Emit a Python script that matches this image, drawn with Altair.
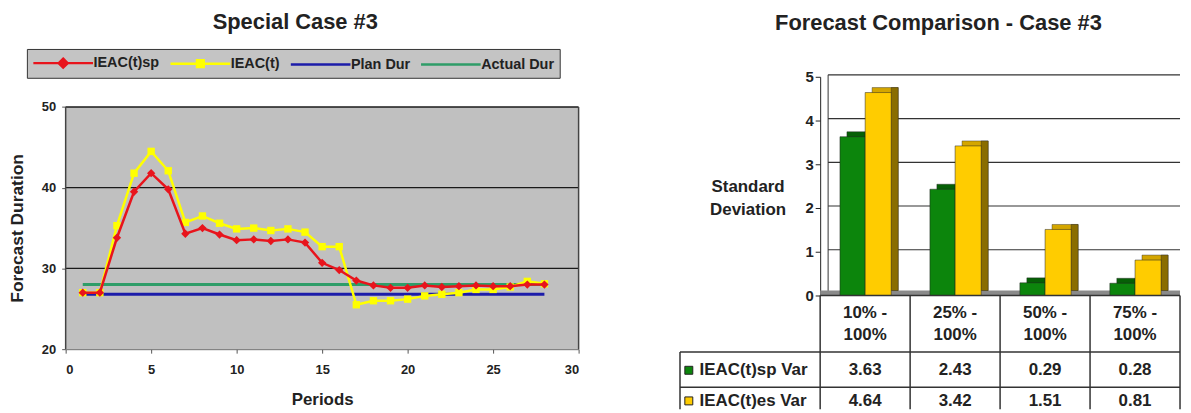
import altair as alt
import pandas as pd

FONT = "Liberation Sans"
TXT = "#222222"

# ---------------- left chart data ----------------
periods = list(range(1, 29))
ieac_sp = [27.0, 27.0, 33.8, 39.5, 41.8, 39.8, 34.3, 35.0, 34.2, 33.5, 33.6, 33.4, 33.6, 33.2,
           30.7, 29.8, 28.5, 27.9, 27.6, 27.6, 27.9, 27.7, 27.8, 27.9, 27.8, 27.8, 28.0, 28.0]
ieac_t = [27.0, 27.0, 35.3, 41.8, 44.5, 42.1, 35.7, 36.5, 35.6, 34.9, 35.0, 34.7, 34.9, 34.5,
          32.7, 32.7, 25.5, 26.0, 26.0, 26.2, 26.6, 26.8, 27.0, 27.4, 27.4, 27.7, 28.4, 28.1]
ref_periods = [1, 28]
plan_dur = [26.8, 26.8]
actual_dur = [28.0, 28.0]
series_names = ["IEAC(t)sp", "IEAC(t)", "Plan Dur", "Actual Dur"]
series_colors = ["#e8141c", "#ffff00", "#1c1caa", "#2f9d68"]
x_ticks = [0, 5, 10, 15, 20, 25, 30]
y_ticks = [20, 30, 40, 50]

# ---------------- right chart data ----------------
ranges = ["10% -\n100%", "25% -\n100%", "50% -\n100%", "75% -\n100%"]
sp_var = [3.63, 2.43, 0.29, 0.28]
es_var = [4.64, 3.42, 1.51, 0.81]
var_names = ["IEAC(t)sp Var", "IEAC(t)es Var"]
sd_ticks = [0, 1, 2, 3, 4, 5]

# ======================= LEFT CHART =======================
Y_EXT = 53.74  # plot area extends above 50 so both panels share a top edge
lxs = alt.Scale(domain=[x_ticks[0], x_ticks[-1]], nice=False, zero=False)
lys = alt.Scale(domain=[y_ticks[0], Y_EXT], nice=False, zero=False)

xaxis = alt.Axis(values=x_ticks, title="Periods", grid=False, labelFontSize=13, labelFontWeight="bold",
                 titleFontSize=17, titleFontWeight="bold", tickSize=4, labelPadding=10, titlePadding=16,
                 domainColor="#555555", tickColor="#555555", labelColor=TXT, titleColor=TXT)
yaxis = alt.Axis(values=y_ticks, title="Forecast Duration", grid=False, domain=False, tickSize=4,
                 tickColor="#555555", labelFontSize=13, labelFontWeight="bold", labelPadding=6,
                 labelColor=TXT, titleFontSize=17.5, titleFontWeight="bold", titleColor=TXT,
                 titleX=-48, titleY=152, titleAlign="center", titleBaseline="middle")


def LX(f):
    return alt.X(f, type="quantitative", scale=lxs, axis=xaxis)


def LY(f):
    return alt.Y(f, type="quantitative", scale=lys, axis=yaxis)


# legend symbols: a line with the series marker (path units scale by sqrt(symbolSize)/2)
legend_paths = [
    "M-1,0H7M3,-0.6L3.6,0L3,0.6L2.4,0Z",
    "M-1,0H7M2.55,-0.45H3.45V0.45H2.55Z",
    "M-1,0H7",
    "M-1,0H7",
]

legend = alt.Legend(
    title=None, orient="none", legendX=-39, legendY=-28, direction="horizontal", columns=4,
    fillColor="#c4c4c4", strokeColor="#333333", padding=5,
    labelFont=FONT, labelFontSize=14.5, labelFontWeight="bold", labelColor=TXT,
    symbolSize=225, symbolStrokeWidth=2.5, symbolOpacity=1, labelOffset=44, columnPadding=5,
)
color_enc = alt.Color("series:N", scale=alt.Scale(domain=series_names, range=series_colors), legend=legend)
shape_enc = alt.Shape("series:N", scale=alt.Scale(domain=series_names, range=legend_paths), legend=legend)

sp_df = pd.DataFrame({"period": periods, "value": ieac_sp, "series": series_names[0]})
t_df = pd.DataFrame({"period": periods, "value": ieac_t, "series": series_names[1]})
ref_df = pd.concat([
    pd.DataFrame({"period": ref_periods, "value": plan_dur, "series": series_names[2]}),
    pd.DataFrame({"period": ref_periods, "value": actual_dur, "series": series_names[3]}),
])
bg_df = pd.DataFrame({"x0": [x_ticks[0]], "x1": [x_ticks[-1]], "y0": [y_ticks[0]], "y1": [y_ticks[-1]]})
grid_df = pd.DataFrame({"x0": x_ticks[0], "x1": x_ticks[-1], "gy": y_ticks[1:]})
border_df = pd.DataFrame({"bx": [x_ticks[0], x_ticks[-1]], "y0": y_ticks[0], "y1": y_ticks[-1]})

bg = alt.Chart(bg_df).mark_rect(color="#c0c0c0").encode(x=LX("x0"), x2="x1", y=LY("y0"), y2="y1")
grid = alt.Chart(grid_df).mark_rule(color="#1a1a1a", strokeWidth=1.3).encode(x=LX("x0"), x2="x1", y=LY("gy"))
border = alt.Chart(border_df).mark_rule(color="#444444", strokeWidth=1.5).encode(x=LX("bx"), y=LY("y0"), y2="y1")

ref_lines = alt.Chart(ref_df).mark_line(strokeWidth=3).encode(x=LX("period"), y=LY("value"), color=color_enc,
                                                                detail="series:N")
t_line = alt.Chart(t_df).mark_line(strokeWidth=2.5).encode(x=LX("period"), y=LY("value"), color=color_enc)
t_pts = alt.Chart(t_df).mark_square(size=55, opacity=1).encode(x=LX("period"), y=LY("value"), color=color_enc)
sp_line = alt.Chart(sp_df).mark_line(strokeWidth=2.5).encode(x=LX("period"), y=LY("value"), color=color_enc)
sp_pts = alt.Chart(sp_df).mark_point(shape="diamond", filled=True, size=70, opacity=1).encode(
    x=LX("period"), y=LY("value"), color=color_enc)
# invisible layer that only carries the legend's line+marker symbols
legend_layer = alt.Chart(ref_df).mark_point(opacity=0, filled=False).encode(
    x=LX("period"), y=LY("value"), color=color_enc, shape=shape_enc)

left = alt.layer(bg, grid, border, ref_lines, t_line, t_pts, sp_line, sp_pts, legend_layer).properties(
    width=516, height=274,
    title=alt.TitleParams("Special Case #3", font=FONT, fontSize=22, fontWeight="bold", color=TXT,
                          anchor="middle", frame="group", dx=-27, offset=15),
)

# ======================= RIGHT CHART =======================
rxs = alt.Scale(domain=[0, len(ranges)], nice=False, zero=False)
rys = alt.Scale(domain=[sd_ticks[0], sd_ticks[-1]], nice=False, zero=False)
raxis = alt.Axis(values=sd_ticks, grid=False, domainColor="#222222",
                 tickColor="#222222", tickSize=5, labelFontSize=15, labelFontWeight="bold", labelPadding=2,
                 labelColor=TXT, title=["Standard", "Deviation"], titleAngle=0, titleX=-73, titleY=110,
                 titleAlign="center", titleBaseline="middle", titleFontSize=17, titleFontWeight="bold",
                 titleLineHeight=24, titleColor=TXT)


def RX(f):
    return alt.X(f, type="quantitative", scale=rxs, axis=None)


def RY(f):
    return alt.Y(f, type="quantitative", scale=rys, axis=raxis)


bar_span = [(0.22, 0.50), (0.50, 0.79)]
face_colors = ["#0c850c", "#ffcc00"]
top_colors = ["#066006", "#d4a600"]
side_colors = ["#034203", "#8a6d00"]

rows = []
for i, _ in enumerate(ranges):
    for s, vals in enumerate([sp_var, es_var]):
        rows.append({"series": var_names[s], "x0": i + bar_span[s][0], "x1": i + bar_span[s][1],
                     "v": vals[i], "base": 0})
bars_df = pd.DataFrame(rows)

n = len(ranges)
floor_df = pd.DataFrame({"x0": [0], "x1": [n], "y": [sd_ticks[0]]})
wall_df = pd.DataFrame({"x": [0], "y0": [sd_ticks[0]], "y1": [sd_ticks[-1]]})
rgrid_df = pd.DataFrame({"x0": 0, "x1": n, "gy": sd_ticks[1:]})

layers = []
layers.append(alt.Chart(rgrid_df).mark_rule(color="#333333", strokeWidth=1.2, xOffset=8, yOffset=-2)
              .encode(x=RX("x0"), x2="x1", y=RY("gy")))
layers.append(alt.Chart(wall_df).mark_rule(color="#333333", strokeWidth=1, xOffset=8, yOffset=-3, y2Offset=-2)
              .encode(x=RX("x"), y=RY("y0"), y2="y1"))
layers.append(alt.Chart(floor_df).mark_rule(color="#8a8a8a", strokeWidth=5, yOffset=-2.5)
              .encode(x=RX("x0"), x2="x1", y=RY("y")))
for s, name in enumerate(var_names):
    base = alt.Chart(bars_df).transform_filter(alt.datum.series == name)
    layers.append(base.mark_rect(color=top_colors[s], xOffset=7, x2Offset=7, yOffset=-5, y2Offset=-5,
                                 stroke="#222222", strokeWidth=0.4)
                  .encode(x=RX("x0"), x2="x1", y=RY("v"), y2="base"))
    layers.append(base.mark_rect(color=side_colors[s], x2Offset=7, yOffset=-5, y2Offset=-5,
                                 stroke="#222222", strokeWidth=0.4)
                  .encode(x=RX("x1"), x2="x1", y=RY("v"), y2="base"))
for s, name in enumerate(var_names):
    base = alt.Chart(bars_df).transform_filter(alt.datum.series == name)
    layers.append(base.mark_rect(color=face_colors[s], stroke="#222222", strokeWidth=0.5)
                  .encode(x=RX("x0"), x2="x1", y=RY("v"), y2="base"))

# ----- data table under the bars -----
label_left = -1.558
header_bottom = -1.29
row_line = -2.1
table_bottom = -2.6
header_text_y = -0.41
row_text_y = [-1.71, -2.41]
label_text_x = -1.34
label_square_x = -1.46

hl_df = pd.DataFrame({"x0": [0, label_left, label_left], "x1": [n, n, n],
                      "y": [0, header_bottom, row_line]})
vl_df = pd.DataFrame({"x": list(range(n + 1)) + [label_left],
                      "y0": [0] * (n + 1) + [header_bottom],
                      "y1": [table_bottom] * (n + 2)})
layers.append(alt.Chart(hl_df).mark_rule(color="#333333", strokeWidth=1.5)
              .encode(x=RX("x0"), x2="x1", y=RY("y")))
layers.append(alt.Chart(vl_df).mark_rule(color="#333333", strokeWidth=1.5)
              .encode(x=RX("x"), y=RY("y0"), y2="y1"))

head_df = pd.DataFrame({"x": [i + 0.5 for i in range(n)], "y": header_text_y, "t": ranges})
val_rows = []
for s, vals in enumerate([sp_var, es_var]):
    for i, v in enumerate(vals):
        val_rows.append({"x": i + 0.5, "y": row_text_y[s], "t": f"{v:.2f}"})
val_df = pd.DataFrame(val_rows)
lab_df = pd.DataFrame({"x": label_text_x, "xs": label_square_x, "y": row_text_y, "t": var_names})

txt = dict(font=FONT, fontSize=17, fontWeight="bold", color=TXT, baseline="middle")
layers.append(alt.Chart(head_df).mark_text(align="center", lineBreak="\n", lineHeight=22, **txt)
              .encode(x=RX("x"), y=RY("y"), text="t:N"))
layers.append(alt.Chart(val_df).mark_text(align="center", **txt).encode(x=RX("x"), y=RY("y"), text="t:N"))
layers.append(alt.Chart(lab_df).mark_text(align="left", **txt).encode(x=RX("x"), y=RY("y"), text="t:N"))
for s, name in enumerate(var_names):
    layers.append(alt.Chart(lab_df).transform_filter(alt.datum.t == name)
                  .mark_square(size=64, color=face_colors[s], opacity=1, stroke="#222222", strokeWidth=1)
                  .encode(x=RX("xs"), y=RY("y")))

right = alt.layer(*layers).properties(
    width=362, height=220,
    title=alt.TitleParams("Forecast Comparison - Case #3", font=FONT, fontSize=22, fontWeight="bold",
                          color=TXT, anchor="middle", frame="group", dx=-62, offset=35),
)

chart = alt.hconcat(left, right, spacing=243, bounds="flush",
                    padding={"left": 1, "top": 1, "right": 0, "bottom": 0}) \
    .resolve_scale(color="independent", shape="independent") \
    .configure(font=FONT) \
    .configure_view(stroke=None)

chart.save("out.html", embed_options={"renderer": "svg", "actions": False})
